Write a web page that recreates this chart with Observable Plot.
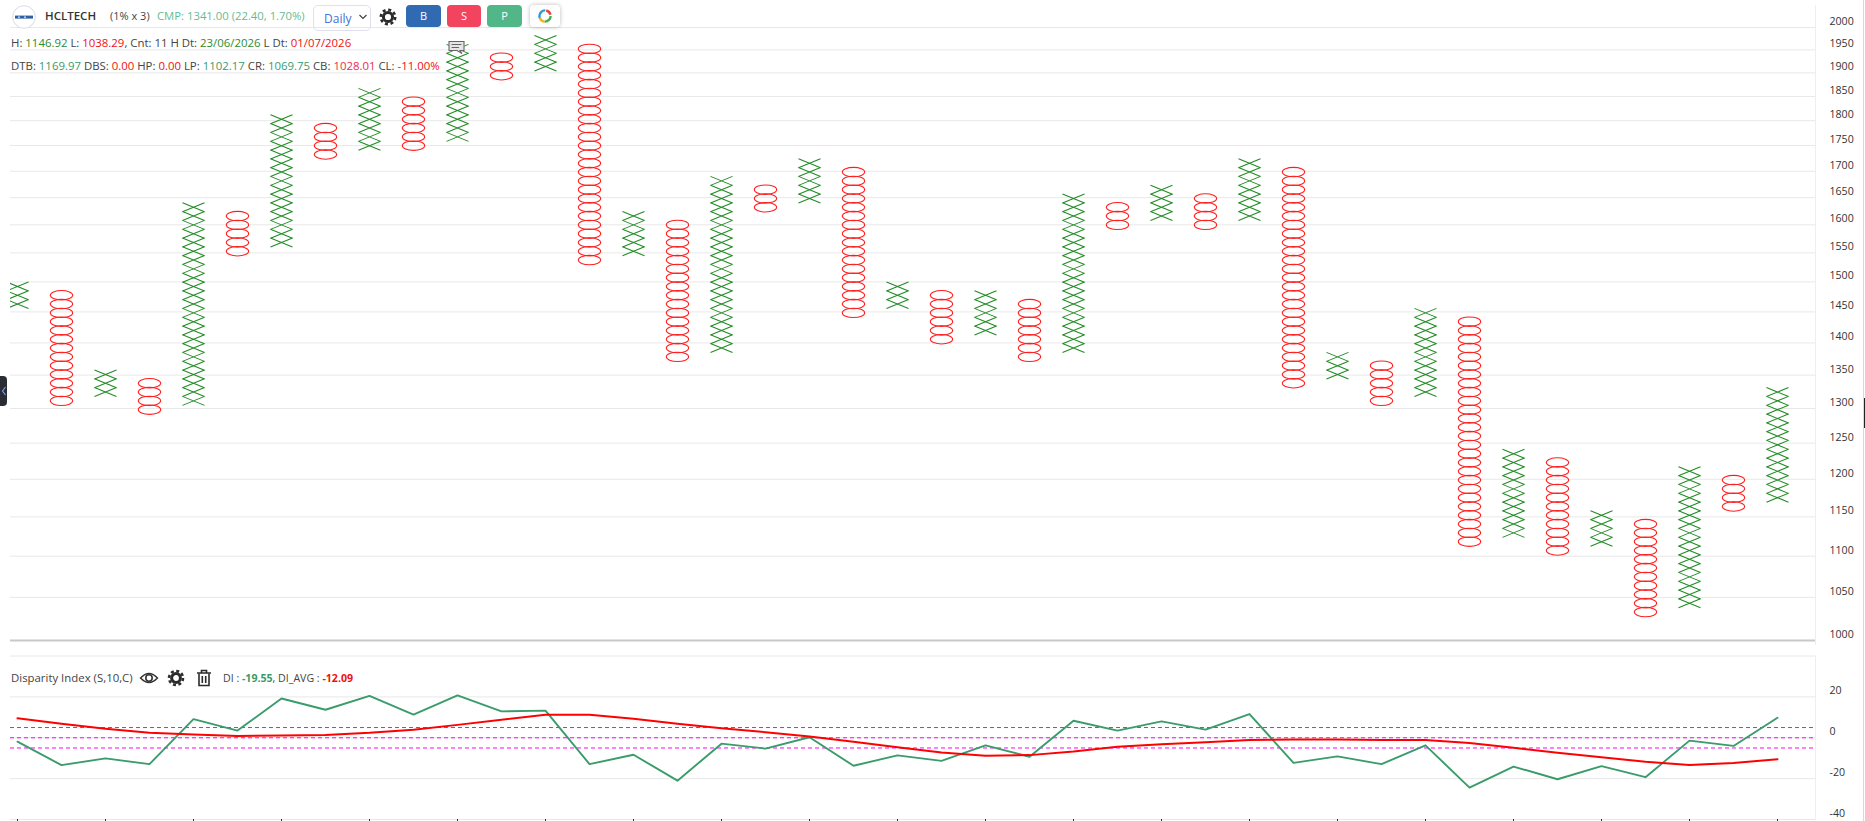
<!DOCTYPE html>
<html>
<head>
<meta charset="utf-8">
<script src="https://cdn.jsdelivr.net/npm/d3@7"></script>
<script src="https://cdn.jsdelivr.net/npm/@observablehq/plot@0.6"></script>
<style>
html,body{margin:0;padding:0;background:#fff;width:1865px;height:821px;overflow:hidden;font-family:"Open Sans",sans-serif;color:#444;}
#wrap{position:relative;width:1865px;height:821px;}
#charts{position:absolute;left:0;top:0;}
#charts svg{display:block;}
.t{position:absolute;white-space:nowrap;font-size:11.4px;line-height:14px;}
.g{color:#2e8b2e}.r{color:#f01010}.s{color:#3a9b6b}.c{color:#ee2a50}
.btn{position:absolute;top:5px;height:22px;border-radius:4px;color:#fff;font-size:11px;line-height:22px;text-align:center;}
.ic{position:absolute;}
</style>
</head>
<body>
<div id="wrap">
  <div id="charts"></div>

  <svg class="ic" style="left:12px;top:5px" width="24" height="24"><circle cx="12" cy="12" r="11.3" fill="#fff" stroke="#d8dce6"/><rect x="3" y="10.6" width="18" height="3" fill="#2f5fa8"/><rect x="6" y="11.6" width="2" height="1" fill="#fff"/><rect x="12" y="11.6" width="2" height="1" fill="#fff"/></svg>
  <div class="t" style="left:45px;top:9px;font-size:11.5px;font-weight:600;color:#333">HCLTECH</div>
  <div class="t" style="left:110px;top:9px;font-size:11px;">(1% x 3)</div>
  <div class="t" style="left:157px;top:9px;font-size:11.3px;color:#66bb94">CMP: 1341.00 (22.40, 1.70%)</div>

  <div style="position:absolute;left:313px;top:5px;width:58px;height:26px;border:1px solid #dfe2ee;border-radius:5px;box-sizing:border-box"></div>
  <div class="t" style="left:324px;top:12px;font-size:12px;color:#3f73d6">Daily</div>
  <svg class="ic" style="left:358px;top:13px" width="10" height="8"><path d="M1.5 2 L5 5.5 L8.5 2" fill="none" stroke="#444" stroke-width="1.2"/></svg>

  <svg class="ic" style="left:378px;top:7px" width="20" height="20"><circle cx="10" cy="10" r="7.2" fill="none" stroke="#2b2b2b" stroke-width="2.6" stroke-dasharray="3 2.65"/><circle cx="10" cy="10" r="4.6" fill="none" stroke="#2b2b2b" stroke-width="3"/></svg>

  <div class="btn" style="left:406px;width:35px;background:#2f6ab3">B</div>
  <div class="btn" style="left:447px;width:34px;background:#f2435f">S</div>
  <div class="btn" style="left:487px;width:35px;background:#52b788">P</div>
  <div style="position:absolute;left:530px;top:5px;width:30px;height:22px;border-radius:4px;background:#fff;box-shadow:0 0 4px rgba(0,0,0,.28)"></div>
  <svg class="ic" style="left:537px;top:8px" width="16" height="16" viewBox="0 0 16 16">
    <g fill="none" stroke-width="2.4"><circle cx="8" cy="8" r="5.6" stroke="#3fb24a" stroke-dasharray="9 26"/><circle cx="8" cy="8" r="5.6" stroke="#f0b429" stroke-dasharray="6 29.2" stroke-dashoffset="-9"/><circle cx="8" cy="8" r="5.6" stroke="#2a9ae0" stroke-dasharray="11 24.2" stroke-dashoffset="-15"/><circle cx="8" cy="8" r="5.6" stroke="#e9443f" stroke-dasharray="6 29.2" stroke-dashoffset="-27"/></g>
  </svg>

  <div class="t" style="left:11px;top:36px">H: <span class="g">1146.92</span> L: <span class="r">1038.29</span>, Cnt: 11 H Dt: <span class="g">23/06/2026</span> L Dt: <span class="r">01/07/2026</span></div>
  <div class="t" style="left:11px;top:59px">DTB: <span class="s">1169.97</span> DBS: <span class="r">0.00</span> HP: <span class="r">0.00</span> LP: <span class="s">1102.17</span> CR: <span class="s">1069.75</span> CB: <span class="c">1028.01</span> CL: <span class="r">-11.00%</span></div>

  <svg class="ic" style="left:447px;top:39px" width="20" height="16"><path d="M2 2.5 H17 V11.5 H13 L15 14.5 L10 11.5 H2 Z" fill="#e6e6e6" stroke="#666" stroke-width="1.1"/><path d="M4.5 5.5 H14.5 M4.5 8.5 H12" stroke="#666"/></svg>

  <div class="t" style="left:11px;top:671px">Disparity Index (S,10,C)</div>
  <svg class="ic" style="left:139px;top:670px" width="20" height="16"><path d="M1.5 8 Q10 -1 18.5 8 Q10 17 1.5 8 Z" fill="none" stroke="#333" stroke-width="1.4"/><circle cx="10" cy="8" r="3.2" fill="none" stroke="#333" stroke-width="1.6"/></svg>
  <svg class="ic" style="left:166px;top:668px" width="20" height="20"><circle cx="10" cy="10" r="7" fill="none" stroke="#2b2b2b" stroke-width="2.6" stroke-dasharray="3 2.5"/><circle cx="10" cy="10" r="4.4" fill="none" stroke="#2b2b2b" stroke-width="3"/></svg>
  <svg class="ic" style="left:196px;top:669px" width="16" height="18"><path d="M1 4 H15 M5.5 4 V1.5 H10.5 V4" fill="none" stroke="#2b2b2b" stroke-width="1.6"/><path d="M3 4.5 V16.5 H13 V4.5 M6.3 7 V14 M9.7 7 V14" fill="none" stroke="#2b2b2b" stroke-width="1.6"/></svg>
  <div class="t" style="left:223px;top:671px;font-size:10.6px">DI : <b class="s">-19.55</b>, DI_AVG : <b class="r">-12.09</b></div>

  <div style="position:absolute;left:0;top:376px;width:7px;height:30px;background:#2a2d35;border-radius:0 4px 4px 0"></div>
  <svg class="ic" style="left:1px;top:386px" width="6" height="10"><path d="M4.5 1 L1.5 5 L4.5 9" fill="none" stroke="#7d9cf0" stroke-width="1.2"/></svg>
  <div style="position:absolute;left:1863px;top:0;width:1px;height:821px;background:#d8d8d8"></div>
  <div style="position:absolute;left:1864px;top:398px;width:1px;height:30px;background:#222"></div>
</div>

<script>
// Point & figure columns: type, lowest and highest box (box number on the 1% grid)
const colTypes = ["X","O","X","O","X","O","X","O","X","O","X","O","X","O","X","O","X","O","X","O","X","O","X","O","X","O","X","O","X","O","X","O","X","O","X","O","X","O","X","O","X"];
const colLowBox  = [38,27,28,26,27,44,45,55,56,56,57,64,65,43,44,32,33,49,50,37,38,34,35,32,33,47,48,47,48,29,30,27,28,11,12,10,11,3,4,15,16];
const colHighBox = [40,39,30,29,49,48,59,58,62,61,67,66,68,67,48,47,52,51,54,53,40,39,39,38,50,49,51,50,54,53,32,31,37,36,21,20,14,13,19,18,28];
const boxBase = 1002.3;   // price of box 0
const boxRatio = 1.01;    // 1% box size
const priceTicks = [1000,1050,1100,1150,1200,1250,1300,1350,1400,1450,1500,1550,1600,1650,1700,1750,1800,1850,1900,1950,2000];

// Disparity Index pane
const diValues = [-1.9,-13.4,-10.1,-12.9,9.1,3.5,19.2,13.7,20.5,11.3,20.7,12.9,13.25,-12.9,-8.3,-21,-2.9,-5.3,0.25,-13.7,-8.6,-11.3,-3.7,-9.3,8.3,3.5,8,4,11.6,-12.3,-9.1,-12.9,-3.7,-24.4,-14.1,-20.3,-13.9,-19.3,-1.4,-4,9.8];
const diAvgValues = [9.5,6.8,4.4,2.4,1.6,0.9,1.1,1.4,2.4,3.9,6.3,8.8,11.3,11.3,9.3,6.8,4.7,2.7,0.6,-1.9,-4.7,-7.2,-8.8,-8.5,-6.7,-4.4,-3.2,-2.2,-1.1,-0.9,-0.9,-1.1,-1.1,-2.6,-4.9,-7.3,-9.5,-11.8,-13.3,-12.3,-10.5];
const diGrid = [40,20,0,-20,-40];
const diTicks = [20,0,-20,-40];
const diLevels = [5,0,-5];
const colIndex = colTypes.map((_, i) => i);
const xTickCols = colIndex.filter(i => i % 2 === 0);

const boxes = colTypes.flatMap((type, col) =>
  d3.range(colLowBox[col], colHighBox[col] + 1).map(n => ({col, type, price: boxBase * Math.pow(boxRatio, n)}))
);

const xSymbol = {draw(c){ c.moveTo(-11,-4.5); c.lineTo(11,4.5); c.moveTo(-11,4.5); c.lineTo(11,-4.5); }};
const oSymbol = {draw(c){
  const a = 11.2, b = 4.7, k = 0.5523;
  c.moveTo(-a,0);
  c.bezierCurveTo(-a,-k*b,-k*a,-b,0,-b);
  c.bezierCurveTo(k*a,-b,a,-k*b,a,0);
  c.bezierCurveTo(a,k*b,k*a,b,0,b);
  c.bezierCurveTo(-k*a,b,-a,k*b,-a,0);
  c.closePath();
}};

const xScale = {domain:[0,40], range:[17,1777], axis:null};
const fontStyle = {fontFamily:'"Open Sans",sans-serif', fontSize:"10.6px", color:"#333", background:"transparent"};

const pfChart = Plot.plot({
  width:1865, height:645, marginLeft:10, marginRight:50, marginTop:5, marginBottom:0,
  style:fontStyle,
  x:xScale,
  y:{type:"log", domain:[1000,2000], range:[640,27]},
  marks:[
    Plot.frame({anchor:"right", stroke:"#eeeeee"}),
    Plot.ruleY(priceTicks.slice(1), {y:d=>d, stroke:"#e8e8e8", strokeWidth:1}),
    Plot.ruleY([1000], {stroke:"#c8c8c8", strokeWidth:2}),
    Plot.axisY(priceTicks, {anchor:"right", tickSize:0, tickPadding:14, dy:-6, label:null, tickFormat:d=>String(d)}),
    Plot.dot(boxes.filter(d=>d.type==="X"), {x:"col", y:"price", r:1, symbol:xSymbol, fill:"none", stroke:"#1f8a24", strokeWidth:1.05, clip:"frame"}),
    Plot.dot(boxes.filter(d=>d.type==="O"), {x:"col", y:"price", r:1, symbol:oSymbol, fill:"none", stroke:"#ff1f1f", strokeWidth:1.05, clip:"frame"})
  ]
});

const diChart = Plot.plot({
  width:1865, height:176, marginLeft:10, marginRight:50, marginTop:10.5, marginBottom:2,
  style:fontStyle,
  x:xScale,
  y:{domain:[-40,40]},
  marks:[
    Plot.frame({anchor:"right", stroke:"#eeeeee"}),
    Plot.ruleY(diGrid, {stroke:"#e8e8e8", strokeWidth:1}),
    Plot.ruleY(diLevels, {stroke:"#ff00ff", strokeWidth:1, strokeDasharray:"4,3"}),
    Plot.axisY(diTicks, {anchor:"right", tickSize:0, tickPadding:14, dy:-6, label:null, tickFormat:d=>String(d)}),
    Plot.axisX(xTickCols, {anchor:"bottom", tickSize:2, tickFormat:()=>"", label:null, stroke:"#333"}),
    Plot.line(colIndex, {x:d=>d, y:d=>diValues[d], stroke:"#3a9b6b", strokeWidth:1.9}),
    Plot.line(colIndex, {x:d=>d, y:d=>diAvgValues[d], stroke:"#ff0000", strokeWidth:2})
  ]
});

document.getElementById("charts").append(pfChart, diChart);
</script>
</body>
</html>
